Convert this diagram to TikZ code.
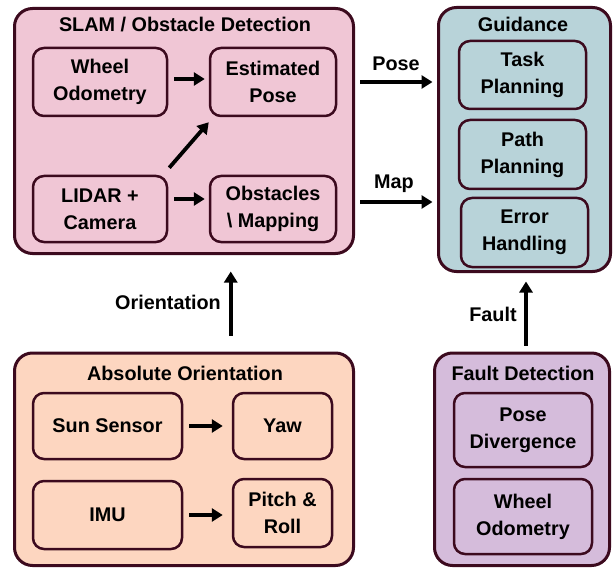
\documentclass[tikz,border=0pt]{standalone}
\usepackage{fontspec}
\setmainfont{Liberation Sans}
\usetikzlibrary{arrows.meta}
\definecolor{edge}{HTML}{3C0A1E}
\definecolor{slamfill}{HTML}{F0C6D5}
\definecolor{guidfill}{HTML}{B8D3D9}
\definecolor{orifill}{HTML}{FDD6C0}
\definecolor{faultfill}{HTML}{D5BCDB}
\begin{document}
\begin{tikzpicture}[x=1pt,y=-1pt,
  font=\fontsize{19.8}{27}\selectfont\bfseries,
  group/.style={draw=edge,line width=3pt,rounded corners=18pt,inner sep=0pt},
  block/.style={draw=edge,line width=2.5pt,rounded corners=11pt,align=center,inner sep=0pt},
  caption/.style={inner sep=0pt,align=center},
  arr/.style={line width=3.8pt,-{Triangle[length=11pt,width=13pt]}}]
\useasboundingbox (0,0) rectangle (613,572);

% group panels
\node[group,fill=slamfill,minimum width=339pt,minimum height=245pt] (slam) at (184,131) {};
\node[group,fill=guidfill,minimum width=172pt,minimum height=264pt] (guid) at (524.5,139.5) {};
\node[group,fill=orifill,minimum width=339pt,minimum height=212.5pt] (ori) at (184,459.25) {};
\node[group,fill=faultfill,minimum width=175pt,minimum height=212.5pt] (fault) at (522,459.25) {};

% panel titles
\node[caption] (slamt) at (185,25) {SLAM / Obstacle Detection};
\node[caption] (guidt) at (523,24) {Guidance};
\node[caption] (orit) at (185,373) {Absolute Orientation};
\node[caption] (faultt) at (523,373) {Fault Detection};

% SLAM blocks
\node[block,minimum width=134pt,minimum height=68pt] (wheel) at (100,82) {Wheel\\Odometry};
\node[block,minimum width=126pt,minimum height=68pt] (est) at (273,82) {Estimated\\Pose};
\node[block,minimum width=134pt,minimum height=66pt] (lidar) at (100,209) {LIDAR +\\Camera};
\node[block,minimum width=126pt,minimum height=66pt] (obst) at (273,209) {Obstacles\\\textbackslash\ Mapping};

% guidance blocks
\node[block,minimum width=127pt,minimum height=68pt] (task) at (522.5,75) {Task\\Planning};
\node[block,minimum width=127pt,minimum height=69pt] (path) at (522.5,154.5) {Path\\Planning};
\node[block,minimum width=127pt,minimum height=69pt] (err) at (524.5,232.5) {Error\\Handling};

% orientation blocks
\node[block,minimum width=149pt,minimum height=66pt] (sun) at (107.5,426) {Sun Sensor};
\node[block,minimum width=99pt,minimum height=66pt] (yaw) at (282.5,426) {Yaw};
\node[block,minimum width=149pt,minimum height=68pt] (imu) at (107.5,515) {IMU};
\node[block,minimum width=99pt,minimum height=68pt] (pr) at (282.5,513) {Pitch \&\\Roll};

% fault detection blocks
\node[block,minimum width=138pt,minimum height=74pt] (pdiv) at (523,430) {Pose\\Divergence};
\node[block,minimum width=138pt,minimum height=75pt] (fwheel) at (523,516.5) {Wheel\\Odometry};

% arrows inside panels
\draw[arr,shorten <=6pt,shorten >=4pt] ([yshift=3pt]wheel.east) -- ([yshift=3pt]est.west);
\draw[arr] ([shift={(1,-7)}]lidar.north east) -- ([shift={(0,5)}]est.south west);
\draw[arr,shorten <=6pt,shorten >=4pt] ([yshift=10pt]lidar.east) -- ([yshift=10pt]obst.west);
\draw[arr,shorten <=6pt,shorten >=9pt] (sun.east) -- (yaw.west);
\draw[arr,shorten <=6pt,shorten >=9pt] (imu.east) -- (imu.east -| pr.west);

% arrows between panels
\coordinate (mapy) at (0,202);
\coordinate (faultx) at (526,0);
\draw[arr,shorten <=5pt,shorten >=4.5pt] (slam.east |- est.center) -- (guid.west |- est.center);
\draw[arr,shorten <=5pt,shorten >=4.5pt] (slam.east |- mapy) -- (guid.west |- mapy);
\draw[arr,shorten <=16pt,shorten >=16.5pt] ([xshift=-1pt]yaw.west |- ori.north) -- ([xshift=-1pt]yaw.west |- slam.south);
\draw[arr,shorten <=6pt,shorten >=8.5pt] (faultx |- fault.north) -- (faultx |- guid.south);

% connector labels
\node[caption] (posel) at (396,64) {Pose};
\node[caption] (mapl) at (394,184) {Map};
\node[caption] (oril) at (168,302) {Orientation};
\node[caption] (faultl) at (493,314) {Fault};
\end{tikzpicture}
\end{document}
